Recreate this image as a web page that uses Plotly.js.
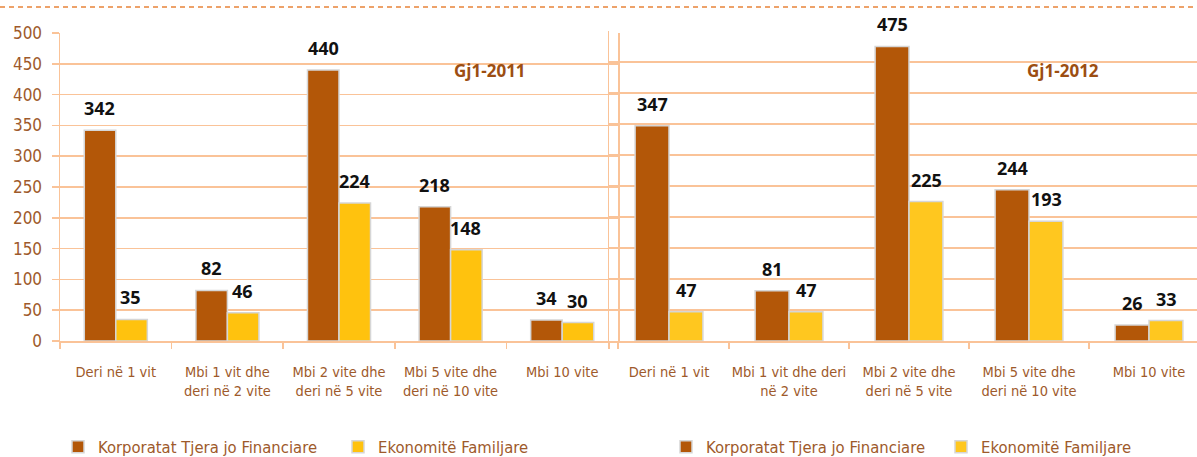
<!DOCTYPE html>
<html><head><meta charset="utf-8">
<script src="https://cdn.plot.ly/plotly-3.0.1.min.js"></script>
<style>html,body{margin:0;padding:0;background:#fff}#chart{width:1197px;height:457px}</style>
</head><body><div id="chart"></div>
<script>
// ---- data ----
const categories = ["Deri në 1 vit","Mbi 1 vit dhe deri në 2 vite","Mbi 2 vite dhe deri në 5 vite","Mbi 5 vite dhe deri në 10 vite","Mbi 10 vite"];
const tickLabels2011 = ["Deri në 1 vit","Mbi 1 vit dhe<br>deri në 2 vite","Mbi 2 vite dhe<br>deri në 5 vite","Mbi 5 vite dhe<br>deri në 10 vite","Mbi 10 vite"];
const tickLabels2012 = ["Deri në 1 vit","Mbi 1 vit dhe deri<br>në 2 vite","Mbi 2 vite dhe<br>deri në 5 vite","Mbi 5 vite dhe<br>deri në 10 vite","Mbi 10 vite"];
const corporates2011 = [342, 82, 440, 218, 34];
const households2011 = [35, 46, 224, 148, 30];
const corporates2012 = [347, 81, 475, 244, 26];
const households2012 = [47, 47, 225, 193, 33];
const seriesNames = ["Korporatat Tjera jo Financiare", "Ekonomitë Familjare"];
const panelTitles = ["Gj1-2011", "Gj1-2012"];

// ---- styles ----
const W = 1197, H = 457;
const DARK = "#B35708", YELLOW = "#FFC20E", YELLOW2 = "#FFC71F";
const GRID = "#FAC398", TXT = "#9E5A2B", TITLE = "#9C4E12";
const NARROW = "DejaVu Sans Condensed, Arial, sans-serif";
const BOLD = "Open Sans, DejaVu Sans, sans-serif";
const px = v => v / W, py = v => (H - v) / H;

function bar(x, y, name, color, xa, ya, lg) {
  return {type: "bar", x: x, y: y, name: name, xaxis: xa, yaxis: ya, legend: lg,
    marker: {color: color, line: {color: "#D6D6D6", width: 1.5}}, hoverinfo: "skip"};
}
const data = [
  bar(categories, corporates2011, seriesNames[0], DARK, "x", "y", "legend"),
  bar(categories, households2011, seriesNames[1], YELLOW, "x", "y", "legend"),
  bar(categories, corporates2012, seriesNames[0], DARK, "x2", "y2", "legend2"),
  bar(categories, households2012, seriesNames[1], YELLOW2, "x2", "y2", "legend2")
];

const annotations = [];
function labels(vals, xa, ya, shift) {
  vals.forEach((v, i) => annotations.push({x: categories[i], y: v, xref: xa, yref: ya,
    xshift: shift, yshift: 8, yanchor: "bottom", showarrow: false, text: String(v),
    font: {family: BOLD, size: 18, weight: 700, color: "#111"}}));
}
labels(corporates2011, "x", "y", -16);
labels(households2011, "x", "y", 15);
labels(corporates2012, "x2", "y2", -17);
labels(households2012, "x2", "y2", 17);
annotations.push({text: panelTitles[0], xref: "paper", yref: "paper", x: px(490), y: py(57),
  showarrow: false, font: {family: BOLD, size: 17, weight: 700, color: TITLE}});
annotations.push({text: panelTitles[1], xref: "paper", yref: "paper", x: px(1101), y: py(57),
  showarrow: false, font: {family: BOLD, size: 17, weight: 700, color: TITLE}});

const xBase = {type: "category", tickmode: "array", tickvals: categories, tickson: "boundaries",
  ticks: "outside", ticklen: 6, tickcolor: GRID, tickwidth: 1.5, showline: true, linecolor: GRID, linewidth: 2,
  showgrid: false, ticklabelstandoff: 17, tickfont: {family: NARROW, size: 14.5, color: TXT}, tickangle: 0,
  fixedrange: true, automargin: false};
const legendBase = {orientation: "h", xanchor: "left", y: py(447), yanchor: "middle", bgcolor: "rgba(0,0,0,0)",
  font: {family: NARROW, size: 16.5, color: TXT}, traceorder: "normal"};
const layout = {
  width: W, height: H, margin: {l: 0, r: 0, t: 0, b: 0, autoexpand: false},
  paper_bgcolor: "#fff", plot_bgcolor: "rgba(0,0,0,0)",
  barmode: "group", bargap: 0.435, bargroupgap: 0,
  showlegend: true,
  xaxis: Object.assign({}, xBase, {domain: [px(60), px(618)], range: [-0.5, 4.5], ticktext: tickLabels2011, anchor: "y"}),
  xaxis2: Object.assign({}, xBase, {domain: [px(609), 1], range: [-0.5, 4.4], ticktext: tickLabels2012, anchor: "y2"}),
  yaxis: {domain: [py(341), py(33)], range: [0, 500], dtick: 50, tick0: 0, showgrid: true, gridcolor: GRID, gridwidth: 1.5,
    zeroline: false, showline: true, mirror: true, linecolor: GRID, linewidth: 1.5, ticks: "outside", ticklen: 7,
    tickcolor: GRID, tickwidth: 1.5, ticklabelstandoff: 6, tickfont: {family: NARROW, size: 17, color: TXT}, anchor: "x", fixedrange: true},
  yaxis2: {domain: [py(341), py(31)], range: [0, 500], dtick: 50, tick0: 0, showgrid: true, gridcolor: GRID, gridwidth: 1.5,
    zeroline: false, showline: true, linecolor: GRID, linewidth: 1.5, showticklabels: false, ticks: "", anchor: "x2", fixedrange: true},
  legend: Object.assign({}, legendBase, {x: px(58), entrywidth: 235}),
  legend2: Object.assign({}, legendBase, {x: px(666), entrywidth: 230}),
  annotations: annotations,
  shapes: [{type: "line", xref: "paper", yref: "paper", x0: 0, x1: 1, y0: py(7), y1: py(7),
    line: {color: "#E8843A", width: 1.5, dash: "5px,4px"}}]
};
Plotly.newPlot("chart", data, layout, {displayModeBar: false, staticPlot: true});
</script></body></html>
